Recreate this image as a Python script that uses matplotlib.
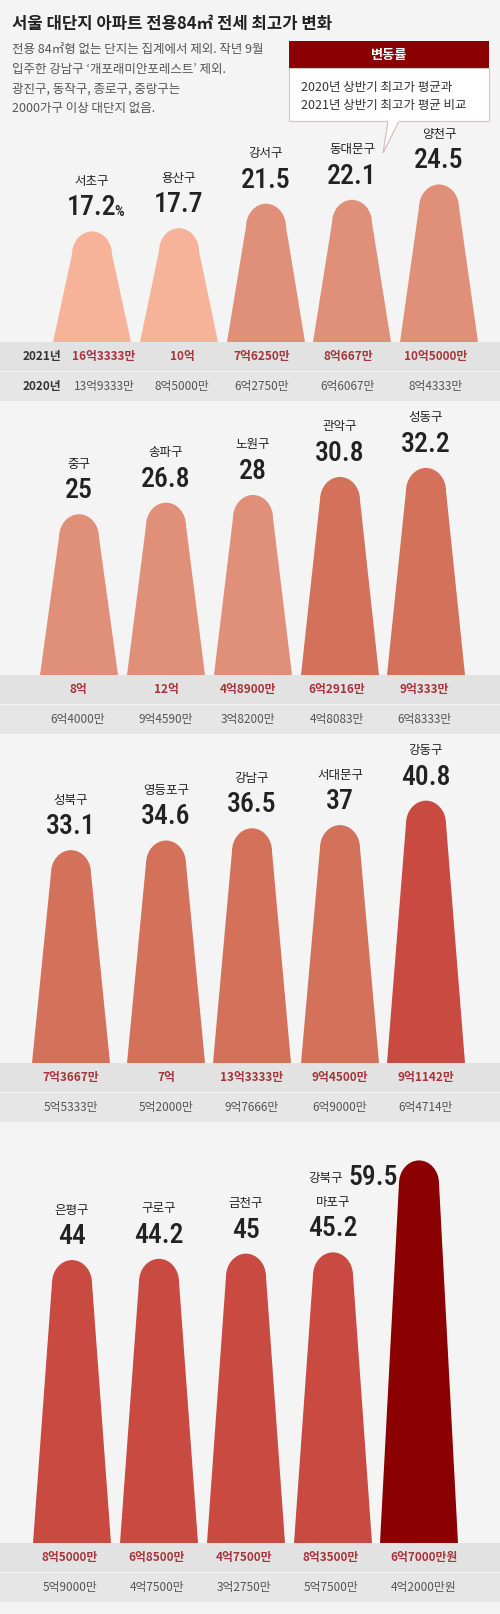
import numpy as np
import matplotlib
matplotlib.use("Agg")
import matplotlib.pyplot as plt
from matplotlib.path import Path
from matplotlib.patches import PathPatch, Rectangle, Polygon

plt.rcParams['font.family'] = ['Noto Sans CJK KR', 'DejaVu Sans']

# 데이터: 2020년 상반기 대비 2021년 상반기 전세 최고가 변동률(%)
districts_1 = ['서초구', '용산구', '강서구', '동대문구', '양천구']
rate_1 = [17.2, 17.7, 21.5, 22.1, 24.5]
price21_1 = ['16억3333만', '10억', '7억6250만', '8억667만', '10억5000만']
price20_1 = ['13억9333만', '8억5000만', '6억2750만', '6억6067만', '8억4333만']

districts_2 = ['중구', '송파구', '노원구', '관악구', '성동구']
rate_2 = [25, 26.8, 28, 30.8, 32.2]
price21_2 = ['8억', '12억', '4억8900만', '6억2916만', '9억333만']
price20_2 = ['6억4000만', '9억4590만', '3억8200만', '4억8083만', '6억8333만']

districts_3 = ['성북구', '영등포구', '강남구', '서대문구', '강동구']
rate_3 = [33.1, 34.6, 36.5, 37, 40.8]
price21_3 = ['7억3667만', '7억', '13억3333만', '9억4500만', '9억1142만']
price20_3 = ['5억5333만', '5억2000만', '9억7666만', '6억9000만', '6억4714만']

districts_4 = ['은평구', '구로구', '금천구', '마포구', '강북구']
rate_4 = [44, 44.2, 45, 45.2, 59.5]
price21_4 = ['8억5000만', '6억8500만', '4억7500만', '8억3500만', '6억7000만원']
price20_4 = ['5억9000만', '4억7500만', '3억2750만', '5억7500만', '4억2000만원']

# 레이아웃 (픽셀)
W, H = 500, 1614
PX = 6.43          # 1%p 당 픽셀
BG = '#f4f4f4'
NUM_FONT = ['Roboto Condensed', 'Roboto', 'DejaVu Sans']

panels = [
    (districts_1, rate_1, price21_1, price20_1, 118, 342, [92, 179, 266, 352, 439], [104, 182, 262, 348, 436]),
    (districts_2, rate_2, price21_2, price20_2, 401, 675, [79, 166, 253, 340, 426], [78, 166, 248, 337, 424]),
    (districts_3, rate_3, price21_3, price20_3, 734, 1063, [71, 166, 252, 340, 426], [71, 166, 252, 340, 426]),
    (districts_4, rate_4, price21_4, price20_4, 1122, 1543, [72, 159, 246, 333, 419], [70, 157, 244, 331, 424]),
]


def bar_color(v):
    if v < 20:
        return '#f7b39a'
    if v < 30:
        return '#e08f78'
    if v < 40:
        return '#d4715a'
    if v < 50:
        return '#c84a41'
    return '#8b0000'


def bar_path(xc, v, hb=39, ht=20, cap=23):
    c = cap / PX
    k = 0.552
    verts = [(xc - hb, 0), (xc - ht, v - c),
             (xc - ht, v - c + c * k), (xc - ht * k, v), (xc, v),
             (xc + ht * k, v), (xc + ht, v - c + c * k), (xc + ht, v - c),
             (xc + hb, 0), (xc - hb, 0)]
    codes = [Path.MOVETO, Path.LINETO,
             Path.CURVE4, Path.CURVE4, Path.CURVE4,
             Path.CURVE4, Path.CURVE4, Path.CURVE4,
             Path.LINETO, Path.CLOSEPOLY]
    return Path(verts, codes)


fig = plt.figure(figsize=(W / 100, H / 100), dpi=100, facecolor=BG)

# 배경/텍스트용 픽셀 좌표 축
bg = fig.add_axes([0, 0, 1, 1])
bg.set_xlim(0, W)
bg.set_ylim(H, 0)
bg.axis('off')
bg.set_facecolor(BG)

bg.text(12, 24, '서울 대단지 아파트 전용84㎡ 전세 최고가 변화', fontsize=12,
        fontweight='bold', color='#222222', va='center', ha='left')
notes = ['전용 84㎡형 없는 단지는 집계에서 제외. 작년 9월',
         '입주한 강남구 ‘개포래미안포레스트’ 제외.',
         '광진구, 동작구, 종로구, 중랑구는',
         '2000가구 이상 대단지 없음.']
for i, line in enumerate(notes):
    bg.text(12, 50 + i * 19.5, line, fontsize=9, color='#555555',
            va='center', ha='left')

# 범례 박스
bg.add_patch(Rectangle((289, 41), 200, 27, facecolor='#8b0000', edgecolor='none'))
bg.text(389, 54.5, '변동률', fontsize=9.5, fontweight='bold', color='white',
        ha='center', va='center')
bg.add_patch(Rectangle((289, 68), 200, 53, facecolor='white', edgecolor='#d0c8c8', lw=0.8))
bg.add_patch(Polygon([(388, 121), (399, 121), (383, 153)], closed=True,
                     facecolor='white', edgecolor='#d8b8b8', lw=0.8))
bg.plot([388.6, 398.4], [121, 121], color='white', lw=1.5)
bg.text(301, 87, '2020년 상반기 최고가 평균과', fontsize=9, color='#333333', va='center')
bg.text(301, 106, '2021년 상반기 최고가 평균 비교', fontsize=9, color='#333333', va='center')

for k, (names, rates, p21, p20, top, base, xs, tx) in enumerate(panels):
    # 표
    bg.add_patch(Rectangle((0, base), W, 29, facecolor='#e2e2e2', edgecolor='none'))
    bg.add_patch(Rectangle((0, base + 30), W, 29, facecolor='#e6e6e6', edgecolor='none'))
    for x, s in zip(tx, p21):
        bg.text(x, base + 14.5, s, fontsize=8.5, fontweight='bold', color='#a8343b',
                ha='center', va='center')
    for x, s in zip(tx, p20):
        bg.text(x, base + 44.5, s, fontsize=8.5, color='#555555',
                ha='center', va='center')
    if k == 0:
        bg.text(42, base + 14.5, '2021년', fontsize=8.5, fontweight='bold',
                color='#333333', ha='center', va='center')
        bg.text(42, base + 44.5, '2020년', fontsize=8.5, fontweight='bold',
                color='#333333', ha='center', va='center')

    # 막대
    ax = fig.add_axes([0, 1 - base / H, 1, (base - top) / H])
    ax.set_xlim(0, W)
    ax.set_ylim(0, (base - top) / PX)
    ax.axis('off')
    ax.patch.set_alpha(0)
    for j, (x, name, v) in enumerate(zip(xs, names, rates)):
        ax.add_patch(PathPatch(bar_path(x, v), facecolor=bar_color(v),
                               edgecolor='none', clip_on=False))
        label = f'{v:g}'
        if k == 3 and j == 4:
            ax.annotate(label, (x, v), xytext=(-15, -12), textcoords='offset points',
                        ha='right', va='center', fontsize=20, fontweight='medium',
                        family=NUM_FONT, color='#222222', annotation_clip=False)
            ax.annotate(name, (x, v), xytext=(-55, -13), textcoords='offset points',
                        ha='right', va='center', fontsize=9, color='#222222',
                        annotation_clip=False)
            continue
        ax.annotate(label, (x, v), xytext=(0, 17), textcoords='offset points',
                    ha='center', va='center', fontsize=20, fontweight='medium',
                    family=NUM_FONT, color='#222222', annotation_clip=False)
        if k == 0 and j == 0:
            ax.annotate('%', (x, v), xytext=(16, 14), textcoords='offset points',
                        ha='left', va='center', fontsize=11, family=NUM_FONT,
                        fontweight='medium', color='#222222', annotation_clip=False)
        ax.annotate(name, (x, v), xytext=(0, 36), textcoords='offset points',
                    ha='center', va='center', fontsize=9, color='#222222',
                    annotation_clip=False)

fig.savefig('out.png', dpi=100, facecolor=BG)
